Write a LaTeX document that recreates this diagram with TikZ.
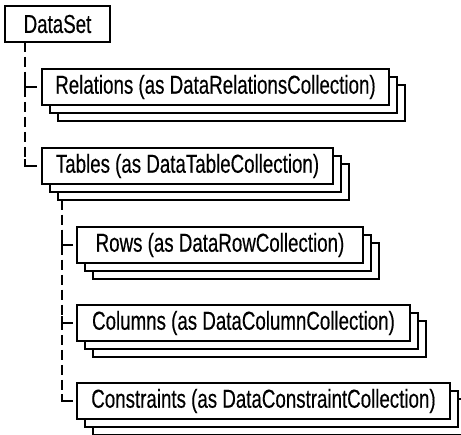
\documentclass[tikz,border=0pt]{standalone}
\usepackage{fontspec}
\setmainfont{Liberation Sans}[FakeStretch=0.72, FakeBold=0.35]
\usetikzlibrary{shadows, positioning}

\begin{document}
\begin{tikzpicture}[x=1pt, y=-1pt,
    box/.style={draw, fill=white, line width=2.6pt, minimum height=36pt, inner sep=0pt, outer sep=0pt,
        anchor=north west, font=\fontsize{26}{28}\selectfont},
    stack/.style={box,
        copy shadow={shadow xshift=16pt, shadow yshift=-16pt, fill=white, line width=2.6pt},
        copy shadow={shadow xshift=8pt, shadow yshift=-8pt, fill=white, line width=2.6pt}},
    tree/.style={line width=2.6pt, dash pattern=on 10pt off 5pt},
    elbow/.style={line width=2.6pt}]
    \useasboundingbox (0,0) rectangle (461,435);
    \clip (0,0) rectangle (461,435);

    \node[box, minimum width=105pt] (dataset) at (5,6) {DataSet};
    \node[stack, minimum width=347pt] (relations) at (42,69) {Relations (as DataRelationsCollection)};
    \node[stack, minimum width=291pt] (tables) at (42,148) {Tables (as DataTableCollection)};
    \node[stack, minimum width=286pt] (rows) at (77,227) {Rows (as DataRowCollection)};
    \node[stack, minimum width=333pt] (columns) at (77,305) {Columns (as DataColumnCollection)};
    \node[stack, minimum width=373pt] (constraints) at (77,383) {Constraints (as DataConstraintCollection)};

    % dataset children
    \draw[tree] ([xshift=20pt]dataset.south west) |- ([xshift=-5pt]relations.west);
    \draw[tree] ([xshift=20pt]dataset.south west) |- ([xshift=-5pt]tables.west);
    \draw[elbow] ([xshift=-5pt]relations.west) -| ++(-12,-7);
    \draw[elbow] ([xshift=-5pt]tables.west) -| ++(-12,-7);

    % tables children
    \draw[tree] ([xshift=20pt, yshift=-16pt]tables.south west) |- ([xshift=-4pt]rows.west);
    \draw[tree] ([xshift=20pt, yshift=-16pt]tables.south west) |- ([xshift=-4pt]columns.west);
    \draw[tree] ([xshift=20pt, yshift=-16pt]tables.south west) |- ([xshift=-4pt]constraints.west);
    \draw[elbow] ([xshift=-4pt]rows.west) -| ++(-11,-7);
    \draw[elbow] ([xshift=-4pt]columns.west) -| ++(-11,-7);
    \draw[elbow] ([xshift=-4pt]constraints.west) -| ++(-11,-7);
\end{tikzpicture}
\end{document}
